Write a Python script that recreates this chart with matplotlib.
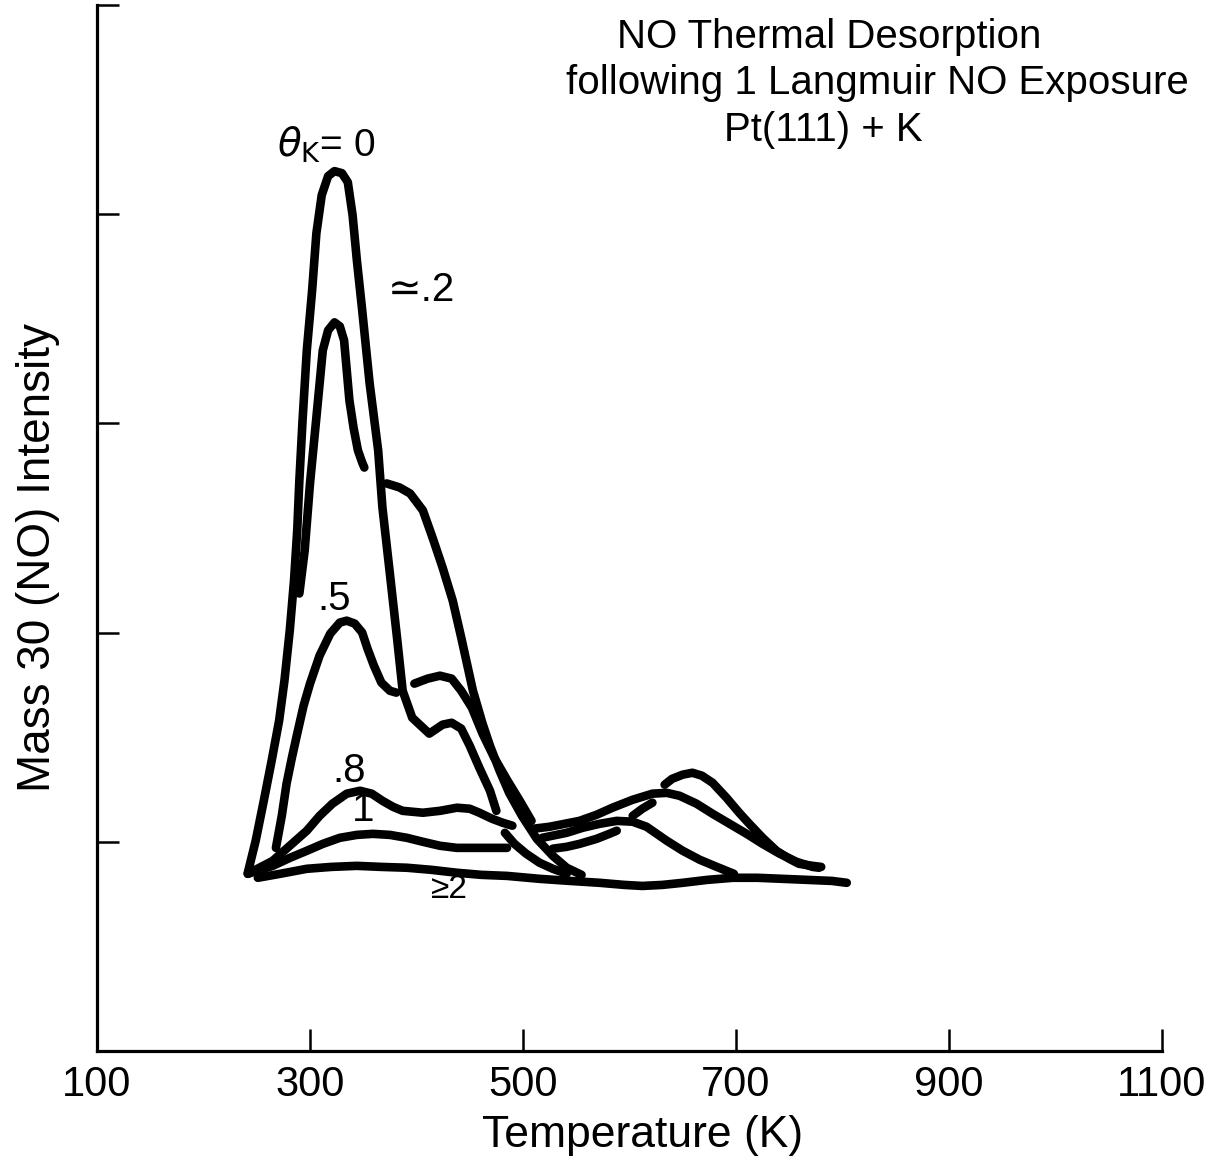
import matplotlib
matplotlib.use("Agg")
import matplotlib.pyplot as plt

plt.rcParams['font.family'] = ['Liberation Sans', 'DejaVu Sans']
plt.rcParams['mathtext.fontset'] = 'dejavusans'

# hand traced curves, temperature (K) and intensity (tick units)
# theta_K = 0
t_theta0 = [241.6, 249, 256.6, 264, 271, 276, 281, 285, 288, 290, 293, 297, 302, 306, 311,
            317, 323, 330, 335.5, 340, 344, 349, 356, 364, 368, 375, 382, 387, 396, 412,
            424.5, 433, 442, 450, 459, 469, 475]
i_theta0 = [0.852, 1.005, 1.196, 1.388, 1.579, 1.770, 2.010, 2.249, 2.488, 2.727, 3.014,
            3.349, 3.636, 3.909, 4.091, 4.182, 4.206, 4.196, 4.153, 3.995, 3.780, 3.541,
            3.191, 2.871, 2.598, 2.282, 1.962, 1.722, 1.593, 1.517, 1.560, 1.569, 1.541,
            1.459, 1.354, 1.244, 1.148]

# theta_K ~ .2, main peak and shoulder
t_theta02_peak = [290, 295, 300, 306, 312, 317, 323, 328, 332, 334.5, 337, 341, 345, 349, 351]
i_theta02_peak = [2.187, 2.392, 2.713, 3.029, 3.349, 3.445, 3.483, 3.464, 3.397, 3.254,
                  3.110, 2.976, 2.871, 2.813, 2.789]
t_theta02_shoulder = [372, 384, 394, 406, 415, 424.5, 434, 442, 453, 462, 469, 478, 487,
                      499, 513, 528, 541, 555]
i_theta02_shoulder = [2.713, 2.694, 2.665, 2.584, 2.455, 2.311, 2.153, 1.976, 1.722, 1.565,
                      1.459, 1.340, 1.234, 1.124, 1.014, 0.933, 0.876, 0.842]

# theta_K = .5
t_theta05_peak = [268, 273.5, 278, 283, 288, 294, 300, 309, 319, 328, 334.5, 342, 349, 354,
                  360, 367, 375, 381]
i_theta05_peak = [0.971, 1.124, 1.278, 1.402, 1.517, 1.651, 1.756, 1.890, 1.995, 2.048,
                  2.057, 2.043, 2.000, 1.923, 1.842, 1.761, 1.722, 1.713]
t_theta05_tail = [398, 410.5, 422, 433, 442, 452, 462, 473, 485.5, 497, 508]
i_theta05_tail = [1.756, 1.780, 1.794, 1.780, 1.722, 1.641, 1.517, 1.402, 1.292, 1.196, 1.100]

# theta_K = .8
t_theta08 = [241.6, 265, 281, 297, 309, 321, 334.5, 347, 358, 368, 378, 387, 406, 422,
             438, 450, 459, 471, 481, 490]
i_theta08 = [0.847, 0.909, 0.981, 1.053, 1.124, 1.182, 1.230, 1.244, 1.230, 1.196, 1.167,
             1.148, 1.139, 1.148, 1.163, 1.158, 1.139, 1.110, 1.091, 1.077]

# theta_K = 1
t_theta1 = [241.6, 265, 281, 297, 312, 328, 344, 359, 375, 391, 406, 422, 438, 453, 469, 485]
i_theta1 = [0.847, 0.885, 0.923, 0.957, 0.990, 1.019, 1.033, 1.038, 1.033, 1.019, 1.000,
            0.981, 0.971, 0.971, 0.971, 0.971]

# theta_K >= 2
t_theta2 = [251, 272, 297, 320, 344, 367, 391, 414, 438, 461, 485, 515.5, 544, 572, 595,
            612, 631, 650, 673, 697, 720, 743.5, 767, 790, 804]
i_theta2 = [0.828, 0.847, 0.871, 0.880, 0.885, 0.880, 0.876, 0.866, 0.852, 0.842, 0.837,
            0.823, 0.813, 0.804, 0.794, 0.789, 0.794, 0.804, 0.818, 0.828, 0.828, 0.823,
            0.818, 0.813, 0.804]

# high temperature pieces
t_tail = [483, 492, 503, 515.5, 528, 541]
i_tail = [1.043, 0.990, 0.943, 0.900, 0.871, 0.847]

t_high_a = [509, 525, 539, 553, 569, 584, 603, 621.5, 635, 647, 663, 678, 694, 710, 725,
            741, 757, 772, 778]
i_high_a = [1.062, 1.072, 1.086, 1.100, 1.129, 1.163, 1.201, 1.230, 1.234, 1.220, 1.182,
            1.134, 1.086, 1.038, 0.990, 0.943, 0.904, 0.880, 0.876]

t_high_b = [518, 541, 556, 572, 588, 603, 616, 635, 650, 666, 682, 698]
i_high_b = [1.019, 1.043, 1.067, 1.086, 1.100, 1.096, 1.072, 1.005, 0.957, 0.914, 0.880, 0.847]

t_high_c1 = [528, 541, 553, 569, 581, 588]
i_high_c1 = [0.967, 0.976, 0.990, 1.014, 1.038, 1.053]
t_high_c2 = [603, 612, 621.5]
i_high_c2 = [1.124, 1.158, 1.187]
t_high_c3 = [633, 640, 650, 659, 668, 678, 691, 703, 712.5, 725, 738, 750, 759, 772, 780]
i_high_c3 = [1.273, 1.301, 1.321, 1.330, 1.316, 1.282, 1.211, 1.139, 1.086, 1.019, 0.957,
             0.919, 0.895, 0.885, 0.880]

segments = [
    (t_theta0, i_theta0), (t_theta02_peak, i_theta02_peak),
    (t_theta02_shoulder, i_theta02_shoulder), (t_theta05_peak, i_theta05_peak),
    (t_theta05_tail, i_theta05_tail), (t_theta08, i_theta08), (t_theta1, i_theta1),
    (t_theta2, i_theta2), (t_tail, i_tail), (t_high_a, i_high_a), (t_high_b, i_high_b),
    (t_high_c1, i_high_c1), (t_high_c2, i_high_c2), (t_high_c3, i_high_c3),
]

# curve labels: text, temperature, intensity, size
curve_labels = [
    (r'$\theta_{\rm K}$= 0', 315, 4.33, 28),
    ('\u2243.2', 405, 3.64, 29),
    ('.5', 323, 2.16, 29),
    ('.8', 337, 1.34, 29),
    ('1', 349.5, 1.15, 29),
    ('\u22652', 431, 0.77, 24),
]

x_ticks = [100, 300, 500, 700, 900, 1100]
title_lines = ['NO Thermal Desorption', 'following 1 Langmuir NO Exposure', 'Pt(111) + K']

W, H = 1209, 1159
fig = plt.figure(figsize=(W / 100, H / 100), dpi=100)
ax = fig.add_axes([97 / W, (H - 1051) / H, (1162 - 97) / W, (1051 - 5) / H])

for t, i in segments:
    ax.plot(t, i, color='black', lw=6.2, solid_capstyle='round', solid_joinstyle='round')

for txt, t, i, fs in curve_labels:
    ax.text(t, i, txt, fontsize=fs, ha='center', va='center')

ax.set_xlim(100, 1100)
ax.set_ylim(0, 5)
ax.set_xticks(x_ticks)
ax.set_xticklabels([str(v) for v in x_ticks])
ax.set_yticks([1, 2, 3, 4, 5])
ax.set_yticklabels([])
ax.tick_params(direction='in', length=16, width=1.8, labelsize=30, pad=10)
ax.spines['top'].set_visible(False)
ax.spines['right'].set_visible(False)
ax.spines['left'].set_linewidth(2.3)
ax.spines['bottom'].set_linewidth(2.3)

fig.text(643 / W, 1 - 1135 / H, 'Temperature (K)', fontsize=32, ha='center', va='center')
fig.text(38 / W, 1 - 557 / H, 'Mass 30 (NO) Intensity', fontsize=33, rotation=90,
         ha='center', va='center')

title_x = [829, 877, 823]
title_base = [48, 94, 141]
for line, x, y in zip(title_lines, title_x, title_base):
    fig.text(x / W, 1 - y / H, line, fontsize=29, ha='center', va='baseline')

fig.savefig('out.png', dpi=100)
